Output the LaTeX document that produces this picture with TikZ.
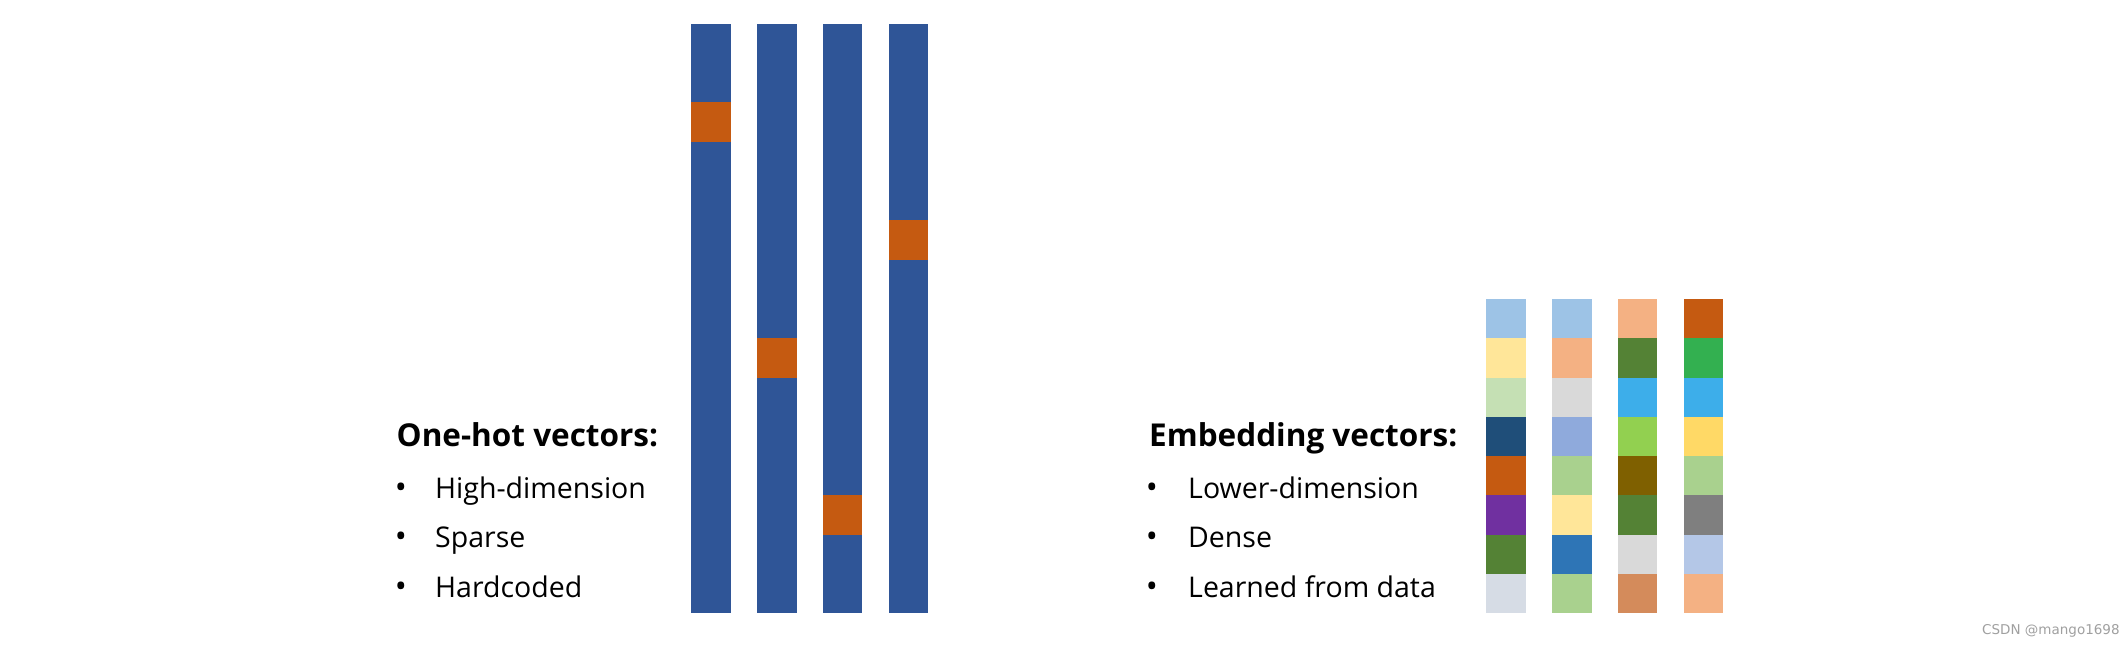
\documentclass[tikz,border=0pt]{standalone}
\usepackage{fontspec}
\setmainfont{Open Sans}
\newfontfamily\wmfont{DejaVu Sans}
\definecolor{barblue}{HTML}{2F5597}
\definecolor{hotorange}{HTML}{C55A11}
\definecolor{eA}{HTML}{9DC3E6}
\definecolor{eB}{HTML}{FFE699}
\definecolor{eC}{HTML}{C5E0B4}
\definecolor{eD}{HTML}{1F4E79}
\definecolor{eE}{HTML}{C55A11}
\definecolor{eF}{HTML}{7030A0}
\definecolor{eG}{HTML}{548235}
\definecolor{eH}{HTML}{D6DCE5}
\definecolor{eI}{HTML}{F4B183}
\definecolor{eJ}{HTML}{D9D9D9}
\definecolor{eK}{HTML}{8FAADC}
\definecolor{eL}{HTML}{A9D18E}
\definecolor{eM}{HTML}{2E75B6}
\definecolor{eN}{HTML}{3DAEEA}
\definecolor{eO}{HTML}{92D050}
\definecolor{eP}{HTML}{7F6000}
\definecolor{eQ}{HTML}{D48B5B}
\definecolor{eR}{HTML}{33B050}
\definecolor{eS}{HTML}{FFD966}
\definecolor{eT}{HTML}{7F7F7F}
\definecolor{eU}{HTML}{B4C7E7}
\definecolor{wmgray}{HTML}{A0A0A0}
\begin{document}
\begin{tikzpicture}[x=1pt,y=-1pt,
  txt/.style={anchor=base west, inner sep=0pt, font=\fontsize{28.5}{33}\selectfont},
  ttl/.style={anchor=base west, inner sep=0pt, font=\bfseries\fontsize{31.5}{37}\selectfont},
  bul/.style={anchor=base, inner sep=0pt, font=\fontsize{32}{37}\selectfont}]
\useasboundingbox (0,0) rectangle (2128,646);
\fill[white] (0,0) rectangle (2128,646);

% one-hot bars (15 cells of 39.3)
\foreach \x/\k in {691/2,757/8,822.5/12,888.5/5} {
  \fill[barblue] (\x,23.8) rectangle ++(39.5,589.5);
  \fill[hotorange] (\x,{23.8+\k*39.3}) rectangle ++(39.5,39.3);
}

% embedding columns (8 cells of 39.3)
\foreach \c [count=\j from 0] in {eA,eB,eC,eD,eE,eF,eG,eH}
  \fill[\c] (1486,{298.9+\j*39.3}) rectangle ++(39.5,39.3);
\foreach \c [count=\j from 0] in {eA,eI,eJ,eK,eL,eB,eM,eL}
  \fill[\c] (1552,{298.9+\j*39.3}) rectangle ++(39.5,39.3);
\foreach \c [count=\j from 0] in {eI,eG,eN,eO,eP,eG,eJ,eQ}
  \fill[\c] (1617.5,{298.9+\j*39.3}) rectangle ++(39.5,39.3);
\foreach \c [count=\j from 0] in {eE,eR,eN,eS,eL,eT,eU,eI}
  \fill[\c] (1683.5,{298.9+\j*39.3}) rectangle ++(39.5,39.3);

% left text
\node[ttl] (t1) at (396.5,446.5) {One-hot vectors:};
\node[bul] (b11) at (401,498) {•};
\node[txt] (l11) at (435,498) {High-dimension};
\node[bul] (b12) at (401,547.5) {•};
\node[txt] (l12) at (435,547.5) {Sparse};
\node[bul] (b13) at (401,597) {•};
\node[txt] (l13) at (435,597) {Hardcoded};

% right text
\node[ttl] (t2) at (1149,446.5) {Embedding vectors:};
\node[bul] (b21) at (1152,498) {•};
\node[txt] (l21) at (1188,498) {Lower-dimension};
\node[bul] (b22) at (1152,547.5) {•};
\node[txt] (l22) at (1188,547.5) {Dense};
\node[bul] (b23) at (1152,597.5) {•};
\node[txt] (l23) at (1188,597.5) {Learned from data};

% watermark
\node[anchor=base west, inner sep=0pt, text=wmgray, font=\wmfont\fontsize{13.5}{16}\selectfont] (wm) at (1982,634) {CSDN @mango1698};
\end{tikzpicture}
\end{document}
